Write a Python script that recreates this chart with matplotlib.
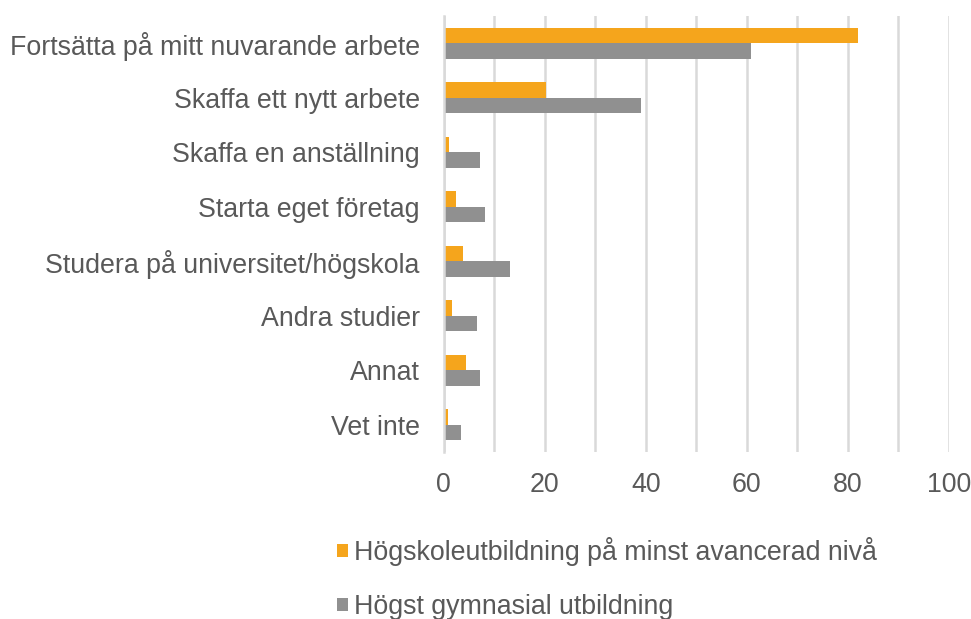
import matplotlib
matplotlib.use("Agg")
import matplotlib.pyplot as plt
import numpy as np

categories = [
    "Fortsätta på mitt nuvarande arbete",
    "Skaffa ett nytt arbete",
    "Skaffa en anställning",
    "Starta eget företag",
    "Studera på universitet/högskola",
    "Andra studier",
    "Annat",
    "Vet inte",
]
series_names = ["Högskoleutbildning på minst avancerad nivå", "Högst gymnasial utbildning"]
hogskola = [82.0, 20.3, 1.0, 2.5, 3.9, 1.7, 4.4, 0.9]
gymnasial = [60.8, 39.1, 7.1, 8.2, 13.2, 6.5, 7.1, 3.4]
x_ticks = [0, 20, 40, 60, 80, 100]

plt.rcParams['font.family'] = ['Liberation Sans', 'DejaVu Sans']
text_color = "#595959"
orange = "#F5A51C"
gray = "#909090"
grid_color = "#D9D9D9"
fs = 19.3

fig = plt.figure(figsize=(9.71, 6.19), dpi=100)
ax = fig.add_axes([0.457, 0.270, 0.520, 0.704])

n = len(categories)
y = np.arange(n)
h = 0.285
b1 = ax.barh(y - h / 2, hogskola, height=h, color=orange, label=series_names[0], zorder=3)
b2 = ax.barh(y + h / 2, gymnasial, height=h, color=gray, label=series_names[1], zorder=3)

ax.set_ylim(n - 0.5, -0.5)
ax.set_xlim(0, 100)
ax.set_yticks(y)
ax.set_yticklabels(categories, fontsize=fs, color=text_color)
ax.set_xticks(x_ticks)
ax.set_xticklabels([str(t) for t in x_ticks], fontsize=fs, color=text_color)
ax.set_xticks(np.arange(0, 101, 10), minor=True)
ax.grid(axis="x", which="both", color=grid_color, linewidth=1.8, zorder=0)
ax.tick_params(axis="both", which="both", length=0)
ax.tick_params(axis="x", pad=14.4)
ax.tick_params(axis="y", pad=17.3)
for s in ["top", "right", "bottom"]:
    ax.spines[s].set_visible(False)
ax.spines["left"].set_color(grid_color)
ax.spines["left"].set_linewidth(1.8)
ax.spines["left"].set_zorder(4)

leg = fig.legend(handles=[b1, b2], loc="upper left", bbox_to_anchor=(0.336, 0.15),
                 frameon=False, fontsize=fs, handlelength=0.4, handleheight=0.4,
                 handletextpad=0.25, labelspacing=1.05, borderaxespad=0)
for t in leg.get_texts():
    t.set_color(text_color)

fig.savefig("out.png", dpi=100)
